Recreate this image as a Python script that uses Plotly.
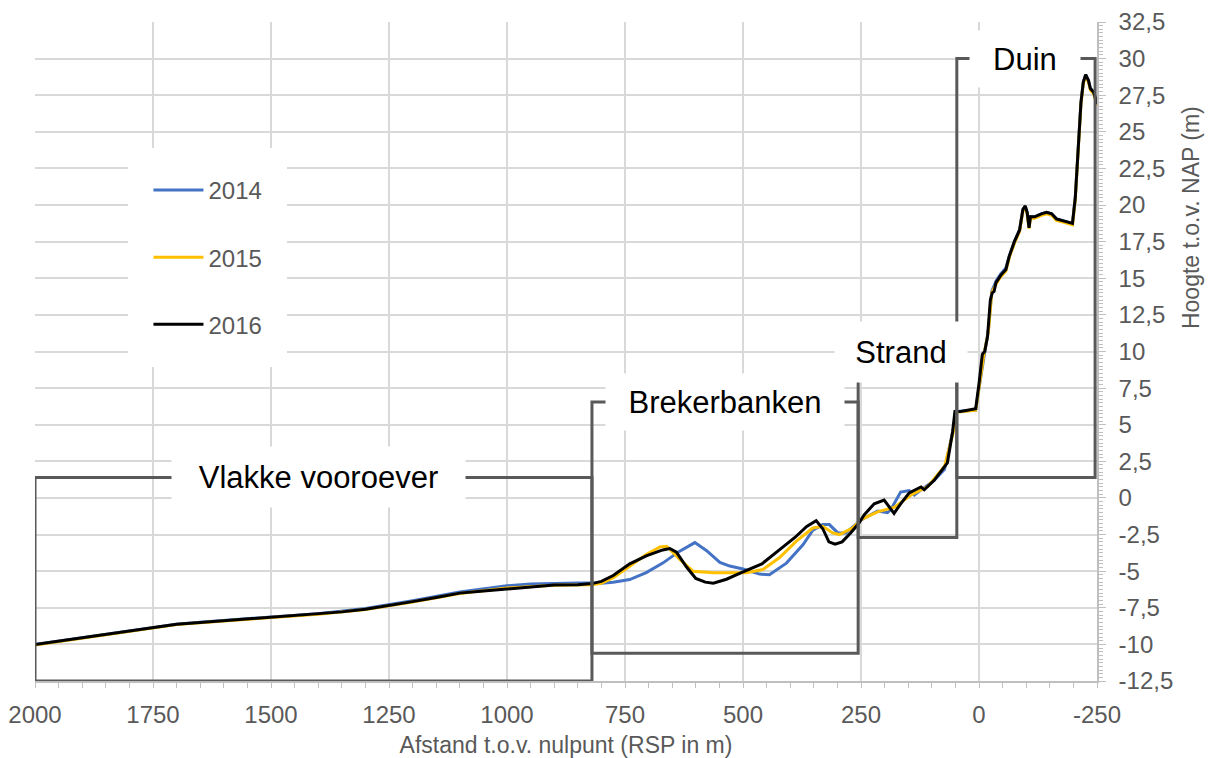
import plotly.graph_objects as go

# ── Colours ──────────────────────────────────────────────────────────────────
BLUE   = "#4472C4"
YELLOW = "#FFC000"
BLACK  = "#000000"
GREY   = "#595959"
GRID   = "#D9D9D9"
FONT   = "Liberation Sans, Arial, sans-serif"

# ── Data: distance to RSP (m) and height to NAP (m) ──────────────────────────
X_2014 = [2000, 1900, 1800, 1750, 1700, 1650, 1600, 1500, 1400, 1300, 1250, 1200,
          1100, 1050, 1000, 950, 900, 850,
          820, 800, 775, 740, 705, 670, 635, 602, 577, 549, 528, 500, 465, 444, 408,
          373, 352, 331, 317, 299, 282, 261, 250, 215, 194, 187, 166, 148, 137, 122,
          95, 73, 55, 48, 7, 0,
          -10, -20, -27, -36, -46, -57, -64, -75, -86, -93, -98, -102, -106, -109,
          -118, -132, -143, -154, -164, -182, -198, -204, -210, -216, -221, -226,
          -232, -236, -243, -250]
Y_2014 = [-10.0, -9.55, -9.1, -8.86, -8.63, -8.48, -8.36, -8.15, -7.9, -7.55, -7.3, -7.02,
          -6.42, -6.2, -6.0, -5.88, -5.82, -5.8,
          -5.8, -5.82, -5.75, -5.57, -5.1, -4.45, -3.65, -3.05, -3.6, -4.4, -4.65, -4.85,
          -5.2, -5.25, -4.45, -3.2, -2.2, -1.82, -1.82, -2.39, -2.39, -1.82, -1.5, -0.9,
          -1.0, -0.8, 0.4, 0.5, 0.2, 0.57, 1.2, 1.95, 4.6, 5.9, 6.0, 7.5,
          9.6, 11.5, 14.1, 14.8, 15.3, 15.7, 16.5, 17.5, 18.3, 19.7, 19.9, 19.5, 18.5,
          19.2, 19.2, 19.4, 19.5, 19.4, 19.06, 18.9, 18.75, 20.5, 24.0, 27.0, 28.4,
          28.9, 28.5, 27.95, 27.7, 26.9]

X_2015 = [2000, 1900, 1800, 1750, 1700, 1600, 1500, 1400, 1300, 1250, 1200, 1100,
          1000, 900, 850,
          820, 800, 775, 740, 705, 676, 662, 655, 634, 606, 563, 528, 493, 458, 423,
          387, 352, 331, 310, 296, 268, 250, 215, 180, 144, 108, 73, 55, 48, 7, 0,
          -10, -20, -27, -36, -46, -57, -64, -75, -86, -93, -98, -102, -106, -109,
          -118, -132, -143, -154, -164, -182, -198, -204, -210, -216, -221, -226,
          -232, -236, -243, -250]
Y_2015 = [-10.05, -9.6, -9.15, -8.9, -8.65, -8.4, -8.2, -7.95, -7.62, -7.38, -7.1, -6.52,
          -6.15, -5.97, -5.95,
          -5.92, -5.82, -5.45, -4.66, -3.86, -3.34, -3.3, -3.5, -4.2, -5.0, -5.11, -5.11,
          -5.1, -4.89, -4.09, -2.95, -2.05, -1.93, -2.39, -2.5, -2.05, -1.48, -0.95,
          -0.65, 0.2, 0.8, 2.16, 4.43, 5.85, 6.0, 7.6,
          9.7, 11.4, 14.0, 14.6, 15.1, 15.5, 16.4, 17.4, 18.2, 19.6, 19.85, 19.4, 18.4,
          19.1, 19.1, 19.3, 19.4, 19.3, 18.95, 18.8, 18.65, 20.4, 23.9, 26.9, 28.3,
          28.8, 28.4, 27.85, 27.6, 26.8]

X_2016 = [2000, 1950, 1900, 1850, 1800, 1750, 1700, 1650, 1600, 1550, 1500, 1450,
          1400, 1350, 1300, 1250, 1200, 1150, 1100, 1050, 1000, 950, 900, 850,
          820, 800, 775, 740, 705, 670, 655, 641, 620, 600, 580, 563, 535, 500, 460,
          425, 390, 365, 345, 331, 318, 305, 290, 272, 255, 243, 222, 201, 190, 180,
          166, 148, 123, 116, 95, 67, 56, 51, 39, 7, 0,
          -7, -12, -18, -24, -28, -32, -36, -46, -57, -64, -75, -86, -93, -98, -102,
          -106, -109, -118, -132, -143, -154, -164, -182, -198, -204, -210, -216,
          -221, -226, -232, -236, -243, -250]
Y_2016 = [-10.0, -9.78, -9.55, -9.32, -9.1, -8.86, -8.63, -8.5, -8.38, -8.27, -8.17, -8.05,
          -7.94, -7.78, -7.6, -7.36, -7.08, -6.8, -6.5, -6.35, -6.2, -6.05, -5.95, -5.92,
          -5.85, -5.7, -5.3, -4.5, -3.95, -3.55, -3.45, -3.7, -4.7, -5.5, -5.75, -5.82,
          -5.55, -5.05, -4.5, -3.6, -2.7, -1.95, -1.55, -2.1, -3.0, -3.15, -3.0, -2.4,
          -1.75, -1.14, -0.4, -0.15, -0.6, -1.05, -0.4, 0.35, 0.75, 0.56, 1.2, 2.4,
          4.5, 5.9, 5.9, 6.1, 7.8,
          9.8, 10.0, 11.0, 13.5, 14.0, 14.1, 14.7, 15.2, 15.6, 16.5, 17.5, 18.3, 19.7,
          19.95, 19.5, 18.45, 19.2, 19.2, 19.4, 19.5, 19.4, 19.06, 18.9, 18.75, 20.5,
          24.0, 27.0, 28.4, 28.9, 28.5, 27.95, 27.7, 26.9]

SERIES = [("2014", X_2014, Y_2014, BLUE),
          ("2015", X_2015, Y_2015, YELLOW),
          ("2016", X_2016, Y_2016, BLACK)]

# ── Axes ─────────────────────────────────────────────────────────────────────
X_TICKS = [2000, 1750, 1500, 1250, 1000, 750, 500, 250, 0, -250]
Y_TICKS = [-12.5, -10, -7.5, -5, -2.5, 0, 2.5, 5, 7.5, 10, 12.5, 15, 17.5, 20,
           22.5, 25, 27.5, 30, 32.5]

# ── Zones: name, x from, x to, y bottom, y top, label x, label box w/h (px) ─
ZONES = [
    ("Vlakke vooroever", 2000, 820, -12.5, 1.4, 1400, 293, 60),
    ("Brekerbanken",     820,  256, -10.6, 6.55, 538, 238, 56),
    ("Strand",           256,  47,  -2.7,  9.95, 165, 132, 60),
    ("Duin",             47,  -246,  1.4,  30.0, -97, 110, 56),
]


def fmt(v):
    return f"{v:g}".replace(".", ",")


fig = go.Figure()
for i, (name, xs, ys, col) in enumerate(SERIES):
    fig.add_trace(go.Scatter(
        x=xs, y=ys, mode="lines", name=name, legendgroup=name,
        line=dict(color=col, width=3),
    ))

for label, x0, x1, y0, y1, lx, w, h in ZONES:
    fig.add_shape(type="rect", x0=x0, x1=x1, y0=y0, y1=y1,
                  line=dict(color=GREY, width=3), fillcolor="rgba(0,0,0,0)")
    fig.add_annotation(x=lx, y=y1, text=label, showarrow=False,
                       width=w, height=h, bgcolor="white", borderpad=0,
                       font=dict(family=FONT, size=31, color=BLACK))

fig.add_annotation(
    text="Hoogte t.o.v. NAP (m)", textangle=-90, showarrow=False,
    xref="paper", yref="paper", x=1.0885, y=0.704,
    xanchor="center", yanchor="middle",
    font=dict(family=FONT, size=23, color=GREY),
)

fig.update_layout(
    width=1216, height=758,
    margin=dict(l=35, r=119, t=22, b=77),
    plot_bgcolor="white", paper_bgcolor="white",
    font=dict(family=FONT, size=24, color=GREY),
    showlegend=True,
    legend=dict(
        x=0.088, y=0.809, xanchor="left", yanchor="top",
        bgcolor="white", bordercolor="white", borderwidth=20,
        itemwidth=50, tracegroupgap=33, font=dict(size=24, color=GREY),
    ),
    xaxis=dict(
        range=[2000, -250], tickmode="array", tickvals=X_TICKS,
        ticktext=[str(v) for v in X_TICKS], automargin=False,
        showgrid=True, gridcolor=GRID, gridwidth=1.5, zeroline=False,
        showline=True, linecolor="#BFBFBF", linewidth=1.5,
        ticks="outside", ticklen=5, tickcolor="#BFBFBF", ticklabelstandoff=6,
        minor=dict(tickmode="linear", tick0=0, dtick=50, ticks="outside",
                   ticklen=5, tickcolor="#BFBFBF", showgrid=False),
        title=dict(text="Afstand t.o.v. nulpunt (RSP in m)", standoff=13,
                   font=dict(size=23, color=GREY)),
    ),
    yaxis=dict(
        range=[-12.5, 32.5], side="right", tickmode="array", tickvals=Y_TICKS,
        ticktext=[fmt(v) for v in Y_TICKS], automargin=False,
        showgrid=True, gridcolor=GRID, gridwidth=1.5, zeroline=False,
        showline=True, linecolor="#BFBFBF", linewidth=1.5,
        ticks="outside", ticklen=7, tickcolor="#BFBFBF", ticklabelstandoff=8,
        minor=dict(tickmode="linear", tick0=0, dtick=0.25, ticks="outside",
                   ticklen=4, tickcolor="#BFBFBF", showgrid=False),
    ),
)

fig.write_html("out.html", config={"displayModeBar": False},
               post_script="document.body.style.margin='0';")
